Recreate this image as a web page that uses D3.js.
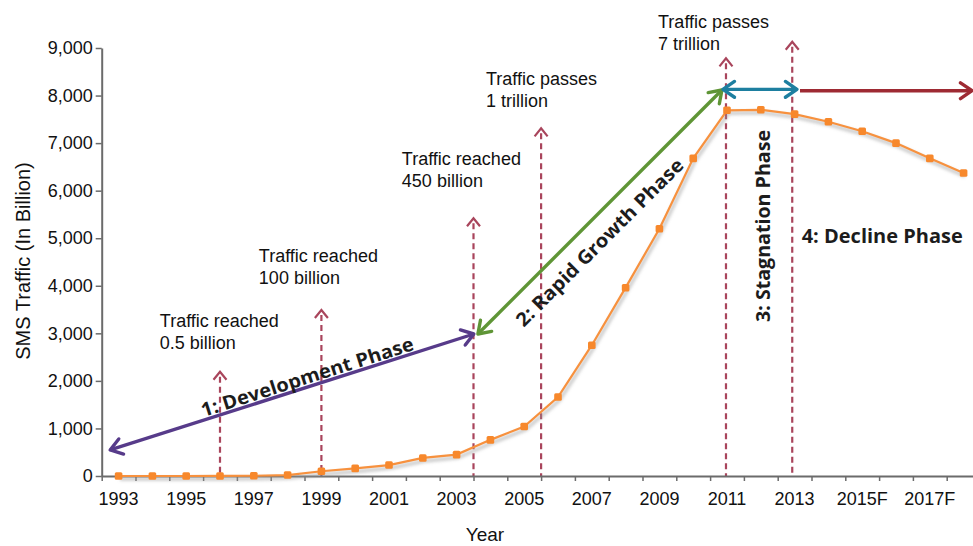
<!DOCTYPE html>
<html><head><meta charset="utf-8">
<script src="https://cdn.jsdelivr.net/npm/d3@7"></script>
<style>body{margin:0;background:#fff}svg{display:block}</style>
</head><body>
<svg id="chart" width="973" height="546"></svg>
<script>
// ---------- DATA ----------
const categories = ["1993","1994","1995","1996","1997","1998","1999","2000","2001","2002","2003","2004","2005","2006","2007","2008","2009","2010","2011","2012","2013","2014","2015F","2016F","2017F","2018F"];
const traffic = [0,0,0,1,5,20,100,160,230,380,450,760,1040,1660,2750,3960,5200,6680,7690,7700,7610,7450,7250,7000,6680,6370];
const xTickLabels = ["1993","1995","1997","1999","2001","2003","2005","2007","2009","2011","2013","2015F","2017F"];
const yTickValues = [0,1000,2000,3000,4000,5000,6000,7000,8000,9000];
const milestoneYears = [1996, 1999, 2003.5, 2005.5, 2010.97, 2012.93];
const milestoneTops = [2193, 3491, 5419, 7311, 8783, 9132];
const milestoneTexts = [
  ["Traffic reached","0.5 billion"],
  ["Traffic reached","100 billion"],
  ["Traffic reached","450 billion"],
  ["Traffic passes","1 trillion"],
  ["Traffic passes","7 trillion"]
];
const milestoneTextYears = [1994.22, 1997.15, 2001.38, 2003.87, 2008.96];
const milestoneTextValues = [3133, 4500, 6540, 8222, 9420];
const phaseNames = ["1: Development Phase","2: Rapid Growth Phase","3: Stagnation Phase","4: Decline Phase"];
const phaseStartYears = [1992.75, 2003.63, 2010.88, 2013.16];
const phaseStartValues = [547, 2986, 8131, 8102];
const phaseEndYears = [2003.51, 2010.85, 2013.07, 2018.25];
const phaseEndValues = [2986, 8117, 8131, 8102];
const phaseDoubleHeaded = [true, true, true, false];
const phaseColors = ["#573b8a","#5f9536","#1d7fa0","#9e2a33"];

// ---------- LAYOUT ----------
const W = 973, H = 546;
const mLeft = 101.7, mBottom = 476, mTop = 48, step = 33.8;
const svg = d3.select("#chart");
const x = d3.scaleBand().domain(categories).range([mLeft, mLeft + step * categories.length]).padding(0);
const xl = d3.scaleLinear().domain([1992.5, 1992.5 + categories.length]).range(x.range());
const y = d3.scaleLinear().domain([0, 9000]).range([mBottom, mTop]);
const cx = c => x(c) + x.bandwidth() / 2;

const defs = svg.append("defs");
defs.append("filter").attr("id","blur").append("feGaussianBlur").attr("stdDeviation",1.5);

// Milestone dashed lines
const msColor = "#a9455c";
milestoneYears.forEach((yr, i) => {
  const px = xl(yr), ty = y(milestoneTops[i]);
  svg.append("line").attr("x1", px).attr("x2", px).attr("y1", ty + 5).attr("y2", mBottom)
    .attr("stroke", msColor).attr("stroke-width", 2.2).attr("stroke-dasharray", "6,4");
  svg.append("path").attr("d", `M${px-6.5},${ty+8}L${px},${ty}L${px+6.5},${ty+8}`)
    .attr("fill","none").attr("stroke", msColor).attr("stroke-width", 2.2);
});

// Axes
const axisColor = "#6b6b6b";
const gy = svg.append("g").attr("transform", `translate(${mLeft},0)`)
  .call(d3.axisLeft(y).tickValues(yTickValues).tickFormat(d3.format(",")).tickSize(6).tickSizeOuter(0));
const boundaries = d3.range(0, categories.length + 1).map(i => 1992.5 + i);
const gxTicks = svg.append("g").attr("transform", `translate(0,${mBottom})`)
  .call(d3.axisBottom(xl).tickValues(boundaries).tickFormat("").tickSize(5).tickSizeOuter(0));
const gxLabels = svg.append("g").attr("transform", `translate(0,${mBottom})`)
  .call(d3.axisBottom(x).tickValues(xTickLabels).tickSize(0).tickPadding(16));
gxLabels.select(".domain").remove();
gxTicks.select(".domain").attr("d", `M${mLeft},0.5H${W}`);
[gy, gxTicks].forEach(g => {
  g.select(".domain").attr("stroke", axisColor).attr("stroke-width", 2);
  g.selectAll(".tick line").attr("stroke", axisColor).attr("stroke-width", 1.5);
});
svg.selectAll(".tick text").attr("font-family", "'Liberation Sans', Arial, sans-serif")
  .attr("font-size", 18).attr("fill", "#111");
gy.selectAll(".tick text").attr("x", -9);

// Axis titles
svg.append("text").attr("transform", "translate(30,261) rotate(-90)").attr("text-anchor","middle")
  .attr("font-family","'Liberation Sans', Arial, sans-serif").attr("font-size",20).attr("fill","#111")
  .text("SMS Traffic (In Billion)");
svg.append("text").attr("x", 485).attr("y", 541).attr("text-anchor","middle")
  .attr("font-family","'Liberation Sans', Arial, sans-serif").attr("font-size",19).attr("fill","#111")
  .text("Year");

// Data line
const line = d3.line().x((d, i) => cx(categories[i])).y(d => y(d));
svg.append("path").datum(traffic).attr("d", line).attr("fill","none")
  .attr("stroke","#999").attr("stroke-opacity",0.45).attr("stroke-width",4)
  .attr("transform","translate(1.5,3)").attr("filter","url(#blur)");
svg.append("path").datum(traffic).attr("d", line).attr("fill","none")
  .attr("stroke","#f7913e").attr("stroke-width",2.2);
svg.selectAll("rect.pt").data(traffic).enter().append("rect").attr("class","pt")
  .attr("x", (d, i) => cx(categories[i]) - 3.8).attr("y", d => y(d) - 3.8)
  .attr("width", 7.6).attr("height", 7.6).attr("rx", 1.5).attr("fill", "#f7882c");

// Milestone texts
milestoneTexts.forEach((lines, i) => {
  const t = svg.append("text").attr("font-family","'Liberation Sans', Arial, sans-serif")
    .attr("font-size",18).attr("fill","#111");
  lines.forEach((s, j) => t.append("tspan").attr("x", xl(milestoneTextYears[i]))
    .attr("y", y(milestoneTextValues[i]) + j * 22).text(s));
});

// Phase arrows
function head(tx, ty, ang, color) {
  const L = 14, a = 0.6;
  const p1 = [tx - L * Math.cos(ang - a), ty - L * Math.sin(ang - a)];
  const p2 = [tx - L * Math.cos(ang + a), ty - L * Math.sin(ang + a)];
  svg.append("path").attr("d", `M${p1}L${tx},${ty}L${p2}`).attr("fill","none")
    .attr("stroke", color).attr("stroke-width", 3.4).attr("stroke-linecap","round").attr("stroke-linejoin","round");
}
const phasePx = phaseNames.map((n, i) => ({
  x1: xl(phaseStartYears[i]), y1: y(phaseStartValues[i]),
  x2: xl(phaseEndYears[i]), y2: y(phaseEndValues[i])
}));
phasePx.forEach((p, i) => {
  const c = phaseColors[i];
  const ang = Math.atan2(p.y2 - p.y1, p.x2 - p.x1);
  svg.append("line").attr("x1", p.x1).attr("y1", p.y1).attr("x2", p.x2).attr("y2", p.y2)
    .attr("stroke", c).attr("stroke-width", 3.4);
  head(p.x2, p.y2, ang, c);
  if (phaseDoubleHeaded[i]) head(p.x1, p.y1, ang + Math.PI, c);
});

// Phase labels
const phaseFont = "'Open Sans', 'Noto Sans', sans-serif";
const phaseLabelLayout = [
  {t: 0.55, off: -3, len: 222},
  {t: 0.437, off: 28, len: 228},
  {year: 2012.27, value: 5257, rot: -90, len: 192},
  {year: 2013.21, value: 4900, rot: 0, len: 161, anchor: "start"}
];
phaseLabelLayout.forEach((L, i) => {
  let px, py, rot, anchor = L.anchor || "middle";
  if (L.t !== undefined) {
    const p = phasePx[i];
    const ang = Math.atan2(p.y2 - p.y1, p.x2 - p.x1);
    px = p.x1 + (p.x2 - p.x1) * L.t - Math.sin(ang) * L.off;
    py = p.y1 + (p.y2 - p.y1) * L.t + Math.cos(ang) * L.off;
    rot = ang * 180 / Math.PI;
  } else {
    px = xl(L.year); py = y(L.value); rot = L.rot;
  }
  svg.append("text").attr("transform", `translate(${px},${py}) rotate(${rot})`)
    .attr("text-anchor", anchor).attr("font-family", phaseFont).attr("font-weight", 700)
    .attr("font-size", 19).attr("fill", "#1c1c1c")
    .attr("textLength", L.len).attr("lengthAdjust", "spacingAndGlyphs")
    .text(phaseNames[i]);
});
</script>
</body></html>
